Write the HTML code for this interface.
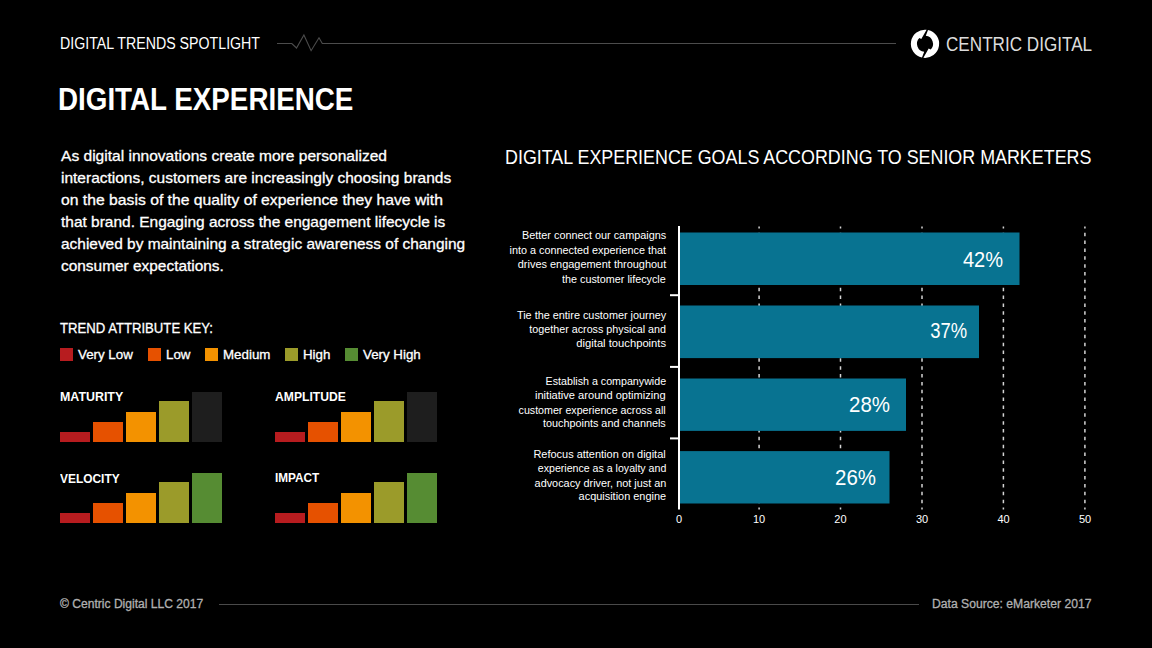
<!DOCTYPE html>
<html><head><meta charset="utf-8">
<style>
html,body{margin:0;padding:0;background:#000;}
body{width:1152px;height:648px;position:relative;overflow:hidden;font-family:"Liberation Sans",sans-serif;color:#fff;}
.a{position:absolute;white-space:nowrap;line-height:1;}
.thin{-webkit-text-stroke:0 !important;}
.bar{position:absolute;}
.r{background:#b71c1f}.o{background:#e65100}.m{background:#f39200}.h{background:#9b9b2a}.vh{background:#568c33}.k{background:#1e1e1e}
</style></head><body>
<div class="a" id="spot" style="left:60px;top:36px;font-size:16px;font-weight:normal;color:#fff;transform:scaleX(0.887);transform-origin:left top;">DIGITAL TRENDS SPOTLIGHT</div>
<svg class="a" style="left:0;top:0" width="1152" height="648">
  <polyline points="277,43.5 291.8,43.5 296.5,48 303.9,34.9 311.1,50.7 319,37.8 322.3,43.5 896,43.5" fill="none" stroke="#4c4c4c" stroke-width="1.1"/>
  <line x1="219" y1="604.5" x2="919" y2="604.5" stroke="#4a4a4a" stroke-width="1"/>
  <path d="M926.6,29.79 A14.1,14.1 0 0 0 922,57.58 L924.2,51.76 A8,8 0 0 1 919.4,38.09 L921.3,39 Z" fill="#fff"/>
  <path d="M923.4,57.81 A14.1,14.1 0 0 0 928,30.02 L925.8,35.84 A8,8 0 0 1 930.6,49.51 L928.7,48.6 Z" fill="#fff"/>
</svg>
<div class="a" id="logo" style="left:946px;top:35.2px;font-size:19.6px;font-weight:normal;color:#dcdcdc;transform:scaleX(0.8734183673469387);transform-origin:left top;-webkit-text-stroke:0;">CENTRIC DIGITAL</div>
<div class="a" id="h1" style="left:58px;top:84px;font-size:31.5px;font-weight:bold;color:#fff;transform:scaleX(0.881904761904762);transform-origin:left top;-webkit-text-stroke:0;">DIGITAL EXPERIENCE</div>
<div class="a" id="b1" style="left:61px;top:148px;font-size:15px;font-weight:normal;color:#fff;transform:scaleX(1.037);transform-origin:left top;-webkit-text-stroke:0.3px #fff;">As digital innovations create more personalized</div>
<div class="a" id="b2" style="left:61px;top:170px;font-size:15px;font-weight:normal;color:#fff;transform:scaleX(1.033);transform-origin:left top;-webkit-text-stroke:0.3px #fff;">interactions, customers are increasingly choosing brands</div>
<div class="a" id="b3" style="left:61px;top:192px;font-size:15px;font-weight:normal;color:#fff;transform:scaleX(1.048);transform-origin:left top;-webkit-text-stroke:0.3px #fff;">on the basis of the quality of experience they have with</div>
<div class="a" id="b4" style="left:61px;top:214px;font-size:15px;font-weight:normal;color:#fff;transform:scaleX(1.031);transform-origin:left top;-webkit-text-stroke:0.3px #fff;">that brand. Engaging across the engagement lifecycle is</div>
<div class="a" id="b5" style="left:61px;top:236px;font-size:15px;font-weight:normal;color:#fff;transform:scaleX(1.029);transform-origin:left top;-webkit-text-stroke:0.3px #fff;">achieved by maintaining a strategic awareness of changing</div>
<div class="a" id="b6" style="left:61px;top:258px;font-size:15px;font-weight:normal;color:#fff;transform:scaleX(1.028);transform-origin:left top;-webkit-text-stroke:0.3px #fff;">consumer expectations.</div>
<div class="a" id="key" style="left:60px;top:321px;font-size:14px;font-weight:normal;color:#fff;transform:scaleX(0.938);transform-origin:left top;-webkit-text-stroke:0.3px #fff;">TREND ATTRIBUTE KEY:</div>
<div class="bar r" style="left:60px;top:348px;width:13px;height:12.8px"></div>
<div class="a" id="lg0" style="left:78px;top:348px;font-size:13px;font-weight:normal;color:#fff;transform:scaleX(1.025);transform-origin:left top;-webkit-text-stroke:0.3px #fff;">Very Low</div>
<div class="bar o" style="left:148px;top:348px;width:13px;height:12.8px"></div>
<div class="a" id="lg1" style="left:166px;top:348px;font-size:13px;font-weight:normal;color:#fff;transform:scaleX(1.025);transform-origin:left top;-webkit-text-stroke:0.3px #fff;">Low</div>
<div class="bar m" style="left:205px;top:348px;width:13px;height:12.8px"></div>
<div class="a" id="lg2" style="left:223px;top:348px;font-size:13px;font-weight:normal;color:#fff;transform:scaleX(1.025);transform-origin:left top;-webkit-text-stroke:0.3px #fff;">Medium</div>
<div class="bar h" style="left:285px;top:348px;width:13px;height:12.8px"></div>
<div class="a" id="lg3" style="left:303px;top:348px;font-size:13px;font-weight:normal;color:#fff;transform:scaleX(1.025);transform-origin:left top;-webkit-text-stroke:0.3px #fff;">High</div>
<div class="bar vh" style="left:345px;top:348px;width:13px;height:12.8px"></div>
<div class="a" id="lg4" style="left:363px;top:348px;font-size:13px;font-weight:normal;color:#fff;transform:scaleX(1.025);transform-origin:left top;-webkit-text-stroke:0.3px #fff;">Very High</div>
<div class="a" id="mn0" style="left:60px;top:390px;font-size:13px;font-weight:bold;color:#fff;transform:scaleX(0.955);transform-origin:left top;-webkit-text-stroke:0;">MATURITY</div>
<div class="bar r" style="left:60px;top:432px;width:30px;height:10px"></div>
<div class="bar o" style="left:93px;top:422px;width:30px;height:20px"></div>
<div class="bar m" style="left:126px;top:412px;width:30px;height:30px"></div>
<div class="bar h" style="left:159px;top:401px;width:30px;height:41px"></div>
<div class="bar k" style="left:192px;top:392px;width:30px;height:50px"></div>
<div class="a" id="mn1" style="left:275px;top:390px;font-size:13px;font-weight:bold;color:#fff;transform:scaleX(0.934);transform-origin:left top;-webkit-text-stroke:0;">AMPLITUDE</div>
<div class="bar r" style="left:275px;top:432px;width:30px;height:10px"></div>
<div class="bar o" style="left:308px;top:422px;width:30px;height:20px"></div>
<div class="bar m" style="left:341px;top:412px;width:30px;height:30px"></div>
<div class="bar h" style="left:374px;top:401px;width:30px;height:41px"></div>
<div class="bar k" style="left:407px;top:392px;width:30px;height:50px"></div>
<div class="a" id="mn2" style="left:60px;top:472px;font-size:13px;font-weight:bold;color:#fff;transform:scaleX(0.917);transform-origin:left top;-webkit-text-stroke:0;">VELOCITY</div>
<div class="bar r" style="left:60px;top:513px;width:30px;height:10px"></div>
<div class="bar o" style="left:93px;top:503px;width:30px;height:20px"></div>
<div class="bar m" style="left:126px;top:493px;width:30px;height:30px"></div>
<div class="bar h" style="left:159px;top:482px;width:30px;height:41px"></div>
<div class="bar vh" style="left:192px;top:473px;width:30px;height:50px"></div>
<div class="a" id="mn3" style="left:275px;top:471px;font-size:13px;font-weight:bold;color:#fff;transform:scaleX(0.906);transform-origin:left top;-webkit-text-stroke:0;">IMPACT</div>
<div class="bar r" style="left:275px;top:513px;width:30px;height:10px"></div>
<div class="bar o" style="left:308px;top:503px;width:30px;height:20px"></div>
<div class="bar m" style="left:341px;top:493px;width:30px;height:30px"></div>
<div class="bar h" style="left:374px;top:482px;width:30px;height:41px"></div>
<div class="bar vh" style="left:407px;top:473px;width:30px;height:50px"></div>
<div class="a" id="ctitle" style="left:505px;top:146.4px;font-size:21px;font-weight:normal;color:#fff;transform:scaleX(0.8512380952380953);transform-origin:left top;-webkit-text-stroke:0;">DIGITAL EXPERIENCE GOALS ACCORDING TO SENIOR MARKETERS</div>
<svg class="a" style="left:0;top:0" width="1152" height="648">
  <g stroke="#d4d4d4" stroke-width="1.5" stroke-dasharray="3.5 4.35" stroke-dashoffset="1.6">
    <line x1="759.1" y1="226.5" x2="759.1" y2="509.5"/>
    <line x1="840.5" y1="226.5" x2="840.5" y2="509.5"/>
    <line x1="922" y1="226.5" x2="922" y2="509.5"/>
    <line x1="1003.4" y1="226.5" x2="1003.4" y2="509.5"/>
    <line x1="1084.9" y1="226.5" x2="1084.9" y2="509.5"/>
  </g>
  <g fill="#087391">
    <rect x="680" y="232.5" width="339.5" height="52.5"/>
    <rect x="680" y="305.5" width="299" height="52.6"/>
    <rect x="680" y="378.5" width="226" height="52.4"/>
    <rect x="680" y="451.1" width="209.5" height="52.4"/>
  </g>
  <g stroke="#fff" stroke-width="2">
    <line x1="679" y1="226" x2="679" y2="509.5"/>
    <line x1="670" y1="295.2" x2="679" y2="295.2"/>
    <line x1="670" y1="366.9" x2="679" y2="366.9"/>
    <line x1="670" y1="438.4" x2="679" y2="438.4"/>
  </g>
</svg>
<div class="a" id="l0" style="right:486px;top:229.8px;font-size:11px;font-weight:normal;color:#fff;transform:scaleX(0.986);transform-origin:right top;">Better connect our campaigns</div>
<div class="a" id="l1" style="right:486px;top:244.7px;font-size:11px;font-weight:normal;color:#fff;transform:scaleX(0.984);transform-origin:right top;">into a connected experience that</div>
<div class="a" id="l2" style="right:486px;top:258.5px;font-size:11px;font-weight:normal;color:#fff;transform:scaleX(0.995);transform-origin:right top;">drives engagement throughout</div>
<div class="a" id="l3" style="right:486px;top:273.6px;font-size:11px;font-weight:normal;color:#fff;transform:scaleX(0.981);transform-origin:right top;">the customer lifecycle</div>
<div class="a" id="l4" style="right:486px;top:309.8px;font-size:11px;font-weight:normal;color:#fff;transform:scaleX(0.987);transform-origin:right top;">Tie the entire customer journey</div>
<div class="a" id="l5" style="right:486px;top:324.2px;font-size:11px;font-weight:normal;color:#fff;transform:scaleX(0.976);transform-origin:right top;">together across physical and</div>
<div class="a" id="l6" style="right:486px;top:338.4px;font-size:11px;font-weight:normal;color:#fff;transform:scaleX(1.019);transform-origin:right top;">digital touchpoints</div>
<div class="a" id="l7" style="right:486px;top:375.9px;font-size:11px;font-weight:normal;color:#fff;transform:scaleX(0.971);transform-origin:right top;">Establish a companywide</div>
<div class="a" id="l8" style="right:486px;top:389.7px;font-size:11px;font-weight:normal;color:#fff;transform:scaleX(1.008);transform-origin:right top;">initiative around optimizing</div>
<div class="a" id="l9" style="right:486px;top:404.6px;font-size:11px;font-weight:normal;color:#fff;transform:scaleX(0.97);transform-origin:right top;">customer experience across all</div>
<div class="a" id="l10" style="right:486px;top:418.4px;font-size:11px;font-weight:normal;color:#fff;transform:scaleX(0.984);transform-origin:right top;">touchpoints and channels</div>
<div class="a" id="l11" style="right:486px;top:448.8px;font-size:11px;font-weight:normal;color:#fff;transform:scaleX(0.997);transform-origin:right top;">Refocus attention on digital</div>
<div class="a" id="l12" style="right:486px;top:462.6px;font-size:11px;font-weight:normal;color:#fff;transform:scaleX(0.964);transform-origin:right top;">experience as a loyalty and</div>
<div class="a" id="l13" style="right:486px;top:477.5px;font-size:11px;font-weight:normal;color:#fff;transform:scaleX(0.988);transform-origin:right top;">advocacy driver, not just an</div>
<div class="a" id="l14" style="right:486px;top:491.2px;font-size:11px;font-weight:normal;color:#fff;transform:scaleX(0.993);transform-origin:right top;">acquisition engine</div>
<div class="a" id="p0" style="right:149.39999999999998px;top:248.55px;font-size:22.5px;font-weight:normal;color:#fff;transform:scaleX(0.8911111111111112);transform-origin:right top;-webkit-text-stroke:0;">42%</div>
<div class="a" id="p1" style="right:184.60000000000002px;top:320.2px;font-size:22.5px;font-weight:normal;color:#fff;transform:scaleX(0.8195121951219513);transform-origin:right top;-webkit-text-stroke:0;">37%</div>
<div class="a" id="p2" style="right:262px;top:394.1px;font-size:22.5px;font-weight:normal;color:#fff;transform:scaleX(0.9105691056910569);transform-origin:right top;-webkit-text-stroke:0;">28%</div>
<div class="a" id="p3" style="right:276px;top:467.0px;font-size:22.5px;font-weight:normal;color:#fff;transform:scaleX(0.9105691056910569);transform-origin:right top;-webkit-text-stroke:0;">26%</div>
<div class="a" id="t0" style="left:679px;top:514px;font-size:11px;transform:translateX(-50%) scaleX(1.0);">0</div>
<div class="a" id="t1" style="left:759px;top:514px;font-size:11px;transform:translateX(-50%) scaleX(1.0);">10</div>
<div class="a" id="t2" style="left:840.4px;top:514px;font-size:11px;transform:translateX(-50%) scaleX(1.0);">20</div>
<div class="a" id="t3" style="left:922px;top:514px;font-size:11px;transform:translateX(-50%) scaleX(1.0);">30</div>
<div class="a" id="t4" style="left:1003.6px;top:514px;font-size:11px;transform:translateX(-50%) scaleX(1.0);">40</div>
<div class="a" id="t5" style="left:1085px;top:514px;font-size:11px;transform:translateX(-50%) scaleX(1.0);">50</div>
<div class="a" id="copy" style="left:60px;top:598px;font-size:12px;font-weight:normal;color:#b0b0b0;transform:scaleX(1.007);transform-origin:left top;-webkit-text-stroke:0.3px currentColor;">© Centric Digital LLC 2017</div>
<div class="a" id="src" style="left:932px;top:598px;font-size:12px;font-weight:normal;color:#b0b0b0;transform:scaleX(1.013);transform-origin:left top;-webkit-text-stroke:0.3px currentColor;">Data Source: eMarketer 2017</div>
</body></html>
